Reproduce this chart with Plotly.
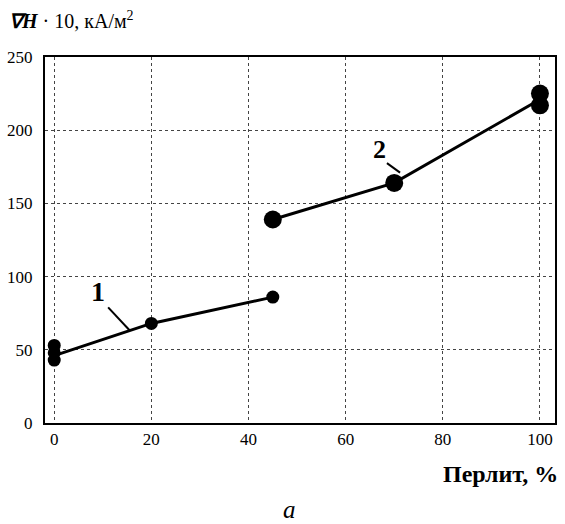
import plotly.graph_objects as go

# Data
pearlite_pts1 = [0, 0, 0, 20, 45]
vh_pts1 = [53, 48, 43, 68, 86]
pearlite_line1 = [0, 20, 45]
vh_line1 = [46, 68, 86]

pearlite_pts2 = [45, 70, 100, 100]
vh_pts2 = [139, 164, 225, 217]
pearlite_line2 = [45, 70, 100]
vh_line2 = [139, 164, 221]

x_ticks = [0, 20, 40, 60, 80, 100]
y_ticks = [0, 50, 100, 150, 200, 250]

FONT = "Liberation Serif"

fig = go.Figure()
fig.add_trace(go.Scatter(x=pearlite_line1, y=vh_line1, mode="lines",
                         line=dict(color="black", width=3), showlegend=False))
fig.add_trace(go.Scatter(x=pearlite_pts1, y=vh_pts1, mode="markers",
                         marker=dict(color="black", size=13), showlegend=False))
fig.add_trace(go.Scatter(x=pearlite_line2, y=vh_line2, mode="lines",
                         line=dict(color="black", width=3), showlegend=False))
fig.add_trace(go.Scatter(x=pearlite_pts2, y=vh_pts2, mode="markers",
                         marker=dict(color="black", size=18), showlegend=False))

# leader lines for curve labels
fig.add_shape(type="line", x0=11.1, y0=79, x1=15.6, y1=63,
              line=dict(color="black", width=2))
fig.add_shape(type="line", x0=68.5, y0=177.5, x1=71.2, y1=171,
              line=dict(color="black", width=2))

fig.add_annotation(x=9.0, y=89.5, text="<b>1</b>", showarrow=False,
                   font=dict(family=FONT, size=28, color="black"))
fig.add_annotation(x=66.9, y=186.5, text="<b>2</b>", showarrow=False,
                   font=dict(family=FONT, size=26, color="black"))

fig.add_annotation(xref="paper", yref="paper", x=-0.075, y=1.10,
                   xanchor="left", yanchor="middle",
                   text="<b><i>∇H</i></b> · 10, кА/м<sup>2</sup>", showarrow=False,
                   font=dict(family=FONT, size=20, color="black"))
fig.add_annotation(xref="paper", yref="paper", x=1.01, y=-0.139,
                   xanchor="right", yanchor="middle",
                   text="<b>Перлит, %</b>", showarrow=False,
                   font=dict(family=FONT, size=24, color="black"))
fig.add_annotation(xref="paper", yref="paper", x=0.48, y=-0.236,
                   xanchor="center", yanchor="middle",
                   text="<i>a</i>", showarrow=False,
                   font=dict(family=FONT, size=25, color="black"))

axis_common = dict(showline=True, linecolor="black", linewidth=2, mirror=True,
                   showgrid=True, gridcolor="#444", gridwidth=1, griddash="dot",
                   zeroline=False, ticks="", automargin=False,
                   tickfont=dict(family=FONT, size=17, color="black"))

fig.update_xaxes(range=[-1.9, 103.1], tickvals=x_ticks, **axis_common)
fig.update_yaxes(range=[0, 250], tickvals=y_ticks, ticklabelstandoff=7, **axis_common)

fig.update_layout(width=565, height=524, margin=dict(l=45, r=10, t=57, b=101),
                  plot_bgcolor="white", paper_bgcolor="white",
                  font=dict(family=FONT, color="black"))

fig.write_html("out.html", config={"displayModeBar": False},
               post_script="document.body.style.margin='0';document.body.style.overflow='hidden';")
